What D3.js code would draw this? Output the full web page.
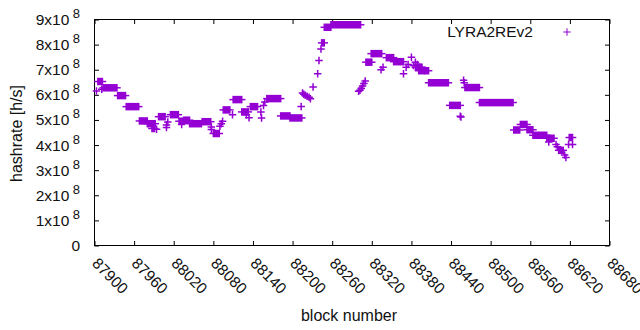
<!DOCTYPE html>
<html>
<head>
<meta charset="utf-8">
<script src="https://cdn.jsdelivr.net/npm/d3@7"></script>
<style>
  body { margin: 0; background: #fff; }
  svg { display: block; font-family: "Liberation Sans", Arial, sans-serif; }
</style>
</head>
<body>
<svg id="chart" width="640" height="330"></svg>
<script>
// runs of consecutive blocks reporting the same hashrate (first block, last block, h/s)
const plateauStart = [87905, 87913, 87935, 87948, 87968, 87980, 87987, 87997, 88015, 88028, 88035, 88044, 88063, 88080,
  88095, 88110, 88123, 88136, 88161, 88182, 88196, 88244, 88248, 88258, 88311, 88319, 88342, 88353, 88386, 88391,
  88406, 88438, 88461, 88483, 88535, 88545, 88555, 88564, 88585, 88603, 88619];
const plateauEnd = [87912, 87934, 87947, 87967, 87980, 87992, 87991, 88007, 88027, 88035, 88044, 88062, 88076, 88089,
  88105, 88123, 88133, 88147, 88182, 88196, 88214, 88248, 88258, 88303, 88320, 88335, 88353, 88368, 88396, 88406,
  88436, 88454, 88483, 88534, 88544, 88555, 88564, 88585, 88596, 88610, 88624];
const plateauRate = [6.53e8, 6.28e8, 5.97e8, 5.53e8, 4.96e8, 4.85e8, 4.66e8, 5.13e8, 5.21e8, 4.95e8, 4.99e8, 4.85e8, 4.93e8, 4.46e8,
  5.40e8, 5.81e8, 5.32e8, 5.53e8, 5.85e8, 5.16e8, 5.08e8, 8.07e8, 8.69e8, 8.79e8, 7.30e8, 7.64e8, 7.48e8, 7.32e8, 7.10e8, 6.96e8,
  6.48e8, 5.58e8, 6.29e8, 5.69e8, 4.60e8, 4.82e8, 4.61e8, 4.39e8, 4.27e8, 3.79e8, 4.30e8];

// isolated samples
const singleBlock = [87903, 87911, 87994, 88009, 88009, 88011, 88032, 88077, 88077, 88090, 88092, 88094,
  88109, 88130, 88134, 88152, 88153, 88156, 88158, 88213, 88215, 88217, 88219, 88222, 88225, 88227,
  88231, 88238, 88240, 88243, 88300, 88302, 88304, 88306, 88308, 88310, 88334, 88337,
  88368, 88372, 88375, 88380, 88383, 88386, 88389, 88392, 88396, 88400,
  88454, 88455, 88459, 88460, 88588, 88599, 88601, 88612, 88614, 88618, 88624];
const singleRate = [6.15e8, 6.22e8, 4.63e8, 4.80e8, 4.70e8, 4.92e8, 4.82e8, 4.72e8, 4.62e8, 4.75e8, 4.85e8, 4.95e8,
  5.21e8, 5.21e8, 5.09e8, 5.32e8, 5.08e8, 5.58e8, 5.71e8, 5.54e8, 6.07e8, 6.02e8, 5.98e8, 5.94e8, 5.90e8, 5.84e8,
  6.31e8, 6.84e8, 7.37e8, 7.83e8, 6.14e8, 6.18e8, 6.25e8, 6.35e8, 6.45e8, 6.55e8, 7.00e8, 7.10e8,
  6.84e8, 7.10e8, 7.21e8, 7.50e8, 7.17e8, 7.30e8, 7.21e8, 7.10e8, 7.00e8, 6.97e8,
  5.15e8, 5.12e8, 6.58e8, 6.48e8, 4.12e8, 4.02e8, 3.93e8, 3.60e8, 3.50e8, 4.02e8, 4.02e8];

const xTicks = [87900, 87960, 88020, 88080, 88140, 88200, 88260, 88320, 88380, 88440, 88500, 88560, 88620, 88680];
const yTicks = [0, 1e8, 2e8, 3e8, 4e8, 5e8, 6e8, 7e8, 8e8, 9e8];

const seriesName = "LYRA2REv2";
const color = "#9400d3";
const textColor = "#111";
const margin = { left: 94.5, right: 30.5, top: 19.5, bottom: 84.5 };
const W = 640, H = 330;
const h = 3.75; // half size of the "+" marker
const tickFont = 15.5;

const svg = d3.select("#chart");

const x = d3.scaleLinear().domain([87900, 88680]).range([margin.left, W - margin.right]);
const y = d3.scaleLinear().domain([0, 9e8]).range([H - margin.bottom, margin.top]);

// axes (ticks point inward, mirrored on top/right)
const gBottom = svg.append("g")
  .attr("transform", `translate(0,${y(0)})`)
  .call(d3.axisBottom(x).tickValues(xTicks).tickSize(-4.5).tickSizeOuter(0).tickFormat(d3.format("d")));
gBottom.selectAll("text")
  .attr("x", 0).attr("y", 0).attr("dy", "0.35em")
  .attr("text-anchor", "start")
  .attr("transform", "translate(0,15) rotate(45)");

svg.append("g")
  .attr("transform", `translate(0,${y(9e8)})`)
  .call(d3.axisTop(x).tickValues(xTicks).tickSize(-4.5).tickSizeOuter(0).tickFormat(""));

const gLeft = svg.append("g")
  .attr("transform", `translate(${x(87900)},0)`)
  .call(d3.axisLeft(y).tickValues(yTicks).tickSize(-4.5).tickSizeOuter(0).tickPadding(14.5).tickFormat(""));
gLeft.selectAll(".tick text").each(function (d) {
  const t = d3.select(this);
  if (d === 0) { t.text("0"); return; }
  t.append("tspan").text(`${d / 1e8}x10`);
  t.append("tspan").attr("dx", 3.5).attr("dy", -7).attr("font-size", 13).text("8");
});

svg.append("g")
  .attr("transform", `translate(${x(88680)},0)`)
  .call(d3.axisRight(y).tickValues(yTicks).tickSize(-4.5).tickSizeOuter(0).tickFormat(""));

svg.selectAll(".tick text").attr("font-size", tickFont).attr("fill", textColor).attr("font-family", null);
svg.selectAll(".domain").remove();
svg.selectAll(".tick line").attr("stroke", "#000");

svg.append("rect")
  .attr("x", x(87900)).attr("y", y(9e8))
  .attr("width", x(88680) - x(87900)).attr("height", y(0) - y(9e8))
  .attr("fill", "none").attr("stroke", "#000").attr("stroke-width", 1);

// axis titles
svg.append("text")
  .attr("x", 349).attr("y", 321)
  .attr("text-anchor", "middle").attr("font-size", 16).attr("fill", textColor)
  .text("block number");
svg.append("text")
  .attr("transform", `translate(22,${(y(0) + y(9e8)) / 2 + 1}) rotate(-90)`)
  .attr("text-anchor", "middle").attr("font-size", 16).attr("fill", textColor)
  .text("hashrate [h/s]");

const plus = (cx, cy) => `M${cx - h},${cy}H${cx + h}M${cx},${cy - h}V${cy + h}`;

const plateaus = plateauStart.map((s, i) => ({ s, e: plateauEnd[i], v: plateauRate[i] }));
const singles = singleBlock.map((b, i) => ({ b, v: singleRate[i] }));

const marks = svg.append("g");

marks.selectAll(".run-box")
  .data(plateaus)
  .join("rect")
  .attr("class", "run-box")
  .attr("x", (d) => x(d.s) - 0.75)
  .attr("y", (d) => y(d.v) - h)
  .attr("width", (d) => x(d.e) - x(d.s) + 1.5)
  .attr("height", 2 * h)
  .attr("fill", color);

marks.selectAll(".run-arm")
  .data(plateaus)
  .join("path")
  .attr("class", "run-arm")
  .attr("d", (d) => `M${x(d.s) - h},${y(d.v)}H${x(d.e) + h}`)
  .attr("stroke", color)
  .attr("stroke-width", 1.5);

marks.selectAll(".single")
  .data(singles)
  .join("path")
  .attr("class", "single")
  .attr("d", (d) => plus(x(d.b), y(d.v)))
  .attr("fill", "none")
  .attr("stroke", color)
  .attr("stroke-width", 1.5);

// legend
svg.append("text")
  .attr("x", 533).attr("y", 37)
  .attr("text-anchor", "end").attr("font-size", tickFont).attr("fill", textColor)
  .text(seriesName);
svg.append("path")
  .attr("d", plus(567, 32))
  .attr("stroke", color).attr("stroke-width", 1);
</script>
</body>
</html>
